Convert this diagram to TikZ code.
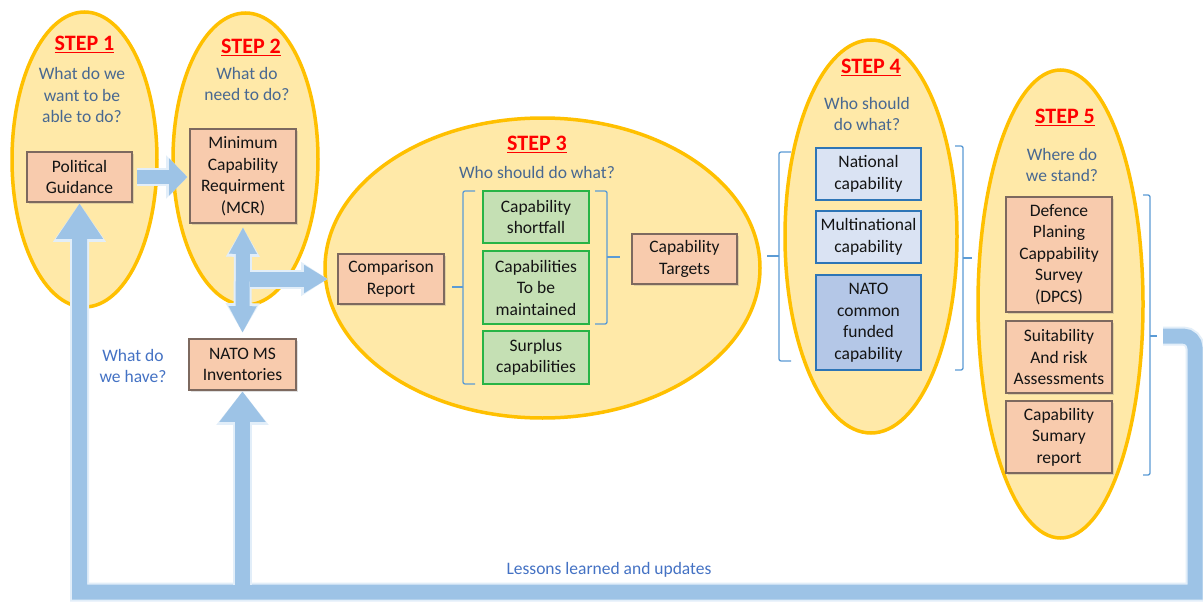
\documentclass[tikz,border=0pt]{standalone}
\usepackage{fontspec}
\setmainfont{Carlito}
\usetikzlibrary{arrows.meta,shapes.geometric,calc,shadows}
\definecolor{ellfill}{RGB}{255,233,168}
\definecolor{ellline}{RGB}{255,192,0}
\definecolor{peachfill}{RGB}{248,203,173}
\definecolor{peachline}{RGB}{125,105,95}
\definecolor{greenfill}{RGB}{197,224,180}
\definecolor{greenline}{RGB}{40,180,70}
\definecolor{bluefill}{RGB}{218,227,243}
\definecolor{bluedark}{RGB}{180,199,231}
\definecolor{blueline}{RGB}{46,117,182}
\definecolor{arrfill}{RGB}{157,195,230}
\definecolor{arrglow}{RGB}{226,238,249}
\definecolor{qcol}{RGB}{72,104,145}
\definecolor{qcoltwo}{RGB}{68,114,196}
\definecolor{brkcol}{RGB}{91,155,213}
\definecolor{boxtext}{RGB}{20,20,20}
\definecolor{steprd}{RGB}{255,0,0}
\newcommand\bxfont{\fontsize{17.5}{21.5}\selectfont}
\newcommand\stfont{\fontsize{22}{26}\selectfont\bfseries}
\newcommand\stepul[1]{\setbox0=\hbox{#1}\rlap{\rule[-2.5pt]{\wd0}{1.6pt}}\box0}
\tikzset{
  stepell/.style={ellipse, draw=ellline, fill=ellfill, line width=3.5pt, inner sep=0pt},
  steplbl/.style={text=steprd, font=\stfont, inner sep=0pt},
  qtext/.style={text=qcol, font=\bxfont, align=center, inner sep=0pt},
  qtexttwo/.style={text=qcoltwo, font=\bxfont, align=center, inner sep=0pt},
  box/.style={rectangle, align=center, inner sep=1pt, text=boxtext, font=\bxfont, line width=1.3pt},
  peach/.style={box, fill=peachfill, draw=peachline, line width=1.6pt,
     drop shadow={opacity=0.25, shadow xshift=1.5pt, shadow yshift=-1.5pt}},
  greenbox/.style={box, fill=greenfill, draw=greenline},
  bluebox/.style={box, fill=bluefill, draw=blueline},
  darkbox/.style={box, fill=bluedark, draw=blueline},
  brk/.style={draw=brkcol, line width=1.3pt, rounded corners=2pt},
  flow/.style n args={5}{line width=#1, draw=arrfill,
     -{Triangle[length=#2,width=#3,line width=0.01pt]},
     preaction={draw=arrglow, line width=#1+4pt,
       -{Triangle[length=#4,width=#5,line width=0.01pt]}}},
  flowd/.style n args={5}{line width=#1, draw=arrfill,
     {Triangle[length=#2,width=#3,line width=0.01pt]}-{Triangle[length=#2,width=#3,line width=0.01pt]},
     preaction={draw=arrglow, line width=#1+4pt,
       {Triangle[length=#4,width=#5,line width=0.01pt]}-{Triangle[length=#4,width=#5,line width=0.01pt]}}},
}
\begin{document}
\begin{tikzpicture}[x=1pt,y=-1pt]
\useasboundingbox (0,0) rectangle (1203,602);
\fill[white] (0,0) rectangle (1203,602);

% ellipses
\node[stepell, minimum width=145pt, minimum height=295pt] (e1) at (84.5,159.5) {};
\node[stepell, minimum width=145pt, minimum height=292pt] (e2) at (245.5,159) {};
\node[stepell, minimum width=435pt, minimum height=300pt] (e3) at (542.5,268) {};
\node[stepell, minimum width=172pt, minimum height=393pt] (e4) at (871,236.5) {};
\node[stepell, minimum width=165pt, minimum height=468pt] (e5) at (1060.5,304) {};

% step labels
\node[steplbl] (s1) at (84.5,45) {\stepul{STEP 1}};
\node[steplbl] (s2) at (251,48) {\stepul{STEP 2}};
\node[steplbl] (s3) at (537,145) {\stepul{STEP 3}};
\node[steplbl] (s4) at (871,68) {\stepul{STEP 4}};
\node[steplbl] (s5) at (1065,118) {\stepul{STEP 5}};

% questions
\node[qtext] (q1) at (82,95) {What do we\\want to be\\able to do?};
\node[qtext] (q2) at (247,84) {What do\\need to do?};
\node[qtext] (q3) at (537,172) {Who should do what?};
\node[qtext] (q4) at (867,114) {Who should\\do what?};
\node[qtext] (q5) at (1062,165) {Where do\\we stand?};
\node[qtexttwo] (q6) at (133,366) {What do\\we have?};
\node[qtexttwo] (lessons) at (609,570) {Lessons learned and updates};

% boxes
\node[peach, minimum width=105pt, minimum height=50pt] (pg) at (79.5,177) {Political\\Guidance};
\node[peach, minimum width=106pt, minimum height=94pt] (mcr) at (243,176) {Minimum\\Capability\\Requirment\\(MCR)};
\node[peach, minimum width=107pt, minimum height=51pt] (inv) at (242.5,364.5) {NATO MS\\Inventories};
\node[peach, minimum width=106pt, minimum height=50pt] (comp) at (391,279) {Comparison\\Report};
\node[greenbox, minimum width=106pt, minimum height=52pt] (short) at (536,217) {Capability\\shortfall};
\node[greenbox, minimum width=106pt, minimum height=73pt] (maint) at (536,287.5) {Capabilities\\To be\\maintained};
\node[greenbox, minimum width=106pt, minimum height=53pt] (surp) at (536,357.5) {Surplus\\capabilities};
\node[peach, minimum width=105pt, minimum height=50pt] (targ) at (684.5,259) {Capability\\Targets};
\node[bluebox, minimum width=105pt, minimum height=52pt] (nat) at (868.5,174) {National\\capability};
\node[bluebox, minimum width=105pt, minimum height=52pt] (multi) at (868.5,237) {Multinational\\capability};
\node[darkbox, minimum width=105pt, minimum height=95pt] (natoc) at (868.5,322.5) {NATO\\common\\funded\\capability};
\node[peach, minimum width=106pt, minimum height=115pt] (dpcs) at (1059,254.5) {Defence\\Planing\\Cappability\\Survey\\(DPCS)};
\node[peach, minimum width=106pt, minimum height=72pt] (suit) at (1059,357) {Suitability\\And risk\\Assessments};
\node[peach, minimum width=106pt, minimum height=72pt] (csr) at (1059,437) {Capability\\Sumary\\report};

% brackets
\draw[brk] (475,191) -- (463,191) -- (463,384) -- (475,384);
\draw[brk] (463,287) -- (452,287);
\draw[brk] (595,191) -- (607,191) -- (607,324) -- (595,324);
\draw[brk] (607,257) -- (620,257);
\draw[brk] (791,152) -- (779,152) -- (779,361) -- (791,361);
\draw[brk] (779,256) -- (767,256);
\draw[brk] (955,146) -- (963,146) -- (963,370) -- (955,370);
\draw[brk] (963,258) -- (972,258);
\draw[brk] (1143,195) -- (1150,195) -- (1150,475) -- (1143,475);
\draw[brk] (1150,336) -- (1157,336);

% coordinates for the feedback loop
\coordinate (fbs) at (1163,336);
\coordinate (fbc1) at (1195,336);
\coordinate (fbc2) at (1195,592);
\coordinate (fbl) at (pg.south |- fbc2);
\coordinate (invb) at ($(inv.south |- fbc2)+(0,-7)$);
\coordinate (br) at ($(mcr.south |- comp.west)+(7,0)$);

% arrows
\draw[flow={15pt}{35pt}{47pt}{38pt}{53pt}, shorten >=1pt]
  (fbs) [rounded corners=12pt] -- (fbc1) [sharp corners] -- (fbc2) -- (fbl) -- (pg.south);
\draw[flow={15pt}{30pt}{46pt}{33pt}{52pt}, shorten >=1pt] (invb) -- (inv.south);
\draw[flow={14pt}{18pt}{37pt}{21pt}{43pt}, shorten <=4pt, shorten >=2pt] (pg.east) -- (pg.east -| mcr.west);
\draw[flowd={14pt}{26pt}{28pt}{29pt}{34pt}, shorten <=4pt, shorten >=6pt] (mcr.south) -- (inv.north);
\draw[flow={15pt}{23pt}{28pt}{26pt}{34pt}, shorten >=10pt] (br) -- (comp.west);
\end{tikzpicture}
\end{document}
